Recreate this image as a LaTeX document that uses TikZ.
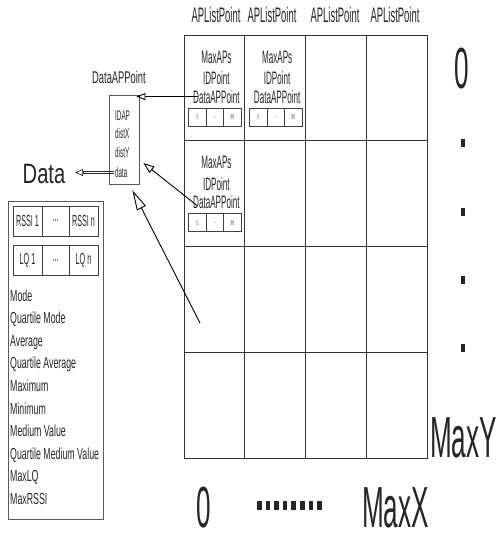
\documentclass[tikz,border=0pt]{standalone}
\usepackage{fontspec}
\setmainfont{Liberation Sans}
\newfontfamily\fA{Liberation Sans}[FakeStretch=0.45]
\newfontfamily\fB{Liberation Sans}[FakeStretch=0.55]
\newfontfamily\fC{Liberation Sans}[FakeStretch=0.72]
\newcommand\fsz[1]{\fontsize{#1}{#1}\selectfont}
\usetikzlibrary{arrows.meta}
\begin{document}
\begin{tikzpicture}[x=1pt,y=-1pt,
  txt/.style={inner sep=0pt, text=black!85},
  hdr/.style={txt, font=\fA\fsz{21}, anchor=base},
  big/.style={txt, font=\fA\fsz{58}, anchor=base},
  celltxt/.style={txt, font=\fA\fsz{18}, anchor=base},
  tinybox/.style={draw=black!75, line width=0.6pt, minimum width=17.5pt, minimum height=18pt, inner sep=0pt, font=\fA\fsz{7}, text=black!70},
  gridcell/.style={draw=black!80, line width=0.9pt, minimum width=60.75pt, minimum height=105.75pt, inner sep=0pt},
  box/.style={draw=black!65, line width=0.8pt, inner sep=0pt},
  listtxt/.style={txt, font=\fB\fsz{16}, anchor=base west},
  boxtxt/.style={txt, font=\fA\fsz{14}, anchor=base west},
  rbox/.style={draw=black!75, line width=0.7pt, minimum height=30pt, inner sep=0pt, font=\fA\fsz{16}, text=black!85},
  arr/.style={line width=0.9pt, -{Triangle[open, length=9pt, width=7pt]}},
  dotmark/.style={fill=black!85}
]
\useasboundingbox (0,0) rectangle (497,538);

% grid
\foreach \r in {1,...,4}{
  \foreach \c in {1,...,4}{
    \node[gridcell] (g\r\c) at ({184+60.75*(\c-0.5)},{35+105.75*(\r-0.5)}) {};
  }
}
% headers
\foreach \x/\i in {216/1,272/2,335/3,395/4}
  \node[hdr] (h\i) at (\x,23) {APListPoint};

% cell contents
\foreach \r/\c in {1/1,1/2,2/1}{
  \pgfmathsetmacro\cx{184+60.75*(\c-0.5)}
  \pgfmathsetmacro\T{35+105.75*(\r-1)}
  \node[celltxt] (m\r\c) at (\cx+2,\T+28) {MaxAPs};
  \node[celltxt] (i\r\c) at (\cx+2,\T+49.5) {IDPoint};
  \node[celltxt] (d\r\c) at (\cx+2,\T+68) {DataAPPoint};
  \node[tinybox] (ta\r\c) at (\cx-17,\T+82) {0};
  \node[tinybox] (tb\r\c) at (\cx+0.5,\T+82) {...};
  \node[tinybox] (tc\r\c) at (\cx+18,\T+82) {99};
}

% right axis
\node[big] (zeroY) at (462,88) {0};
\foreach \y [count=\k] in {143,212,280,348}
  \fill[dotmark] (460.8,\y-4) rectangle (465.3,\y+4);
\node[big, anchor=base west] (maxY) at (430,457) {MaxY};

% bottom axis
\node[big] (zeroX) at (204,527) {0};
\foreach \i in {0,...,7}
  \fill[dotmark] ({257+8.6*\i},501) rectangle ++(4.5,9);
\node[big, anchor=base west] (maxX) at (362,527) {MaxX};

% DataAPPoint box
\node[txt, font=\fB\fsz{17}, anchor=base] (daplbl) at (119,83) {DataAPPoint};
\node[box, minimum width=30pt, minimum height=89pt] (dapbox) at (124,139.5) {};
\node[boxtxt] (bidap) at (115,120) {IDAP};
\node[boxtxt] (bdistx) at (115,138) {distX};
\node[boxtxt] (bdisty) at (115,157) {distY};
\node[boxtxt] (bdata) at (115,177) {data};

% Data box
\node[txt, font=\fC\fsz{28}, anchor=base] (datalbl) at (44,183) {Data};
\node[box, minimum width=95pt, minimum height=318pt] (databox) at (55.5,360) {};
\node[rbox, minimum width=29pt] (r1) at (27.5,221) {RSSI 1};
\node[rbox, minimum width=27pt] (r2) at (55.5,221) {...};
\node[rbox, minimum width=29pt] (r3) at (83.5,221) {RSSI n};
\node[rbox, minimum width=29pt] (q1) at (27.5,260.5) {LQ 1};
\node[rbox, minimum width=27pt] (q2) at (55.5,260.5) {...};
\node[rbox, minimum width=29pt] (q3) at (83.5,260.5) {LQ n};
\foreach \t [count=\i from 0] in {Mode,Quartile Mode,Average,Quartile Average,Maximum,Minimum,Medium Value,Quartile Medium Value,MaxLQ,MaxRSSI}
  \node[listtxt] (l\i) at (10,{301+22.6*\i}) {\t};

% arrows
\draw[arr, shorten <=-5pt, shorten >=-3pt] (d11.west) -- (dapbox.east |- d11.west);
\draw[line width=0.9pt, -{Triangle[open, length=11pt, width=8pt]}, shorten <=-5pt] (d21.west) -- ([xshift=4pt,yshift=-23.5pt]dapbox.east);
\coordinate (tailC) at (200,323);
\draw[line width=0.9pt, -{Triangle[open, length=20pt, width=10pt]}] (tailC) -- ([xshift=-7pt,yshift=-6pt]dapbox.south east);
% hollow (double) arrow from data to Data
\coordinate (dstart) at (114,172.5);
\coordinate (dbase) at (83,172.5);
\coordinate (dtip) at (75,172.5);
\draw[black!85, line width=0.7pt] (dstart) ++(0,-1.1) -- (dbase |- 0,171.4);
\draw[black!85, line width=0.7pt] (dstart) ++(0,1.1) -- (dbase |- 0,173.6);
\draw[line width=0.7pt, black!85, -{Triangle[open, length=8pt, width=7pt]}] (dbase) -- (dtip);
\end{tikzpicture}
\end{document}
